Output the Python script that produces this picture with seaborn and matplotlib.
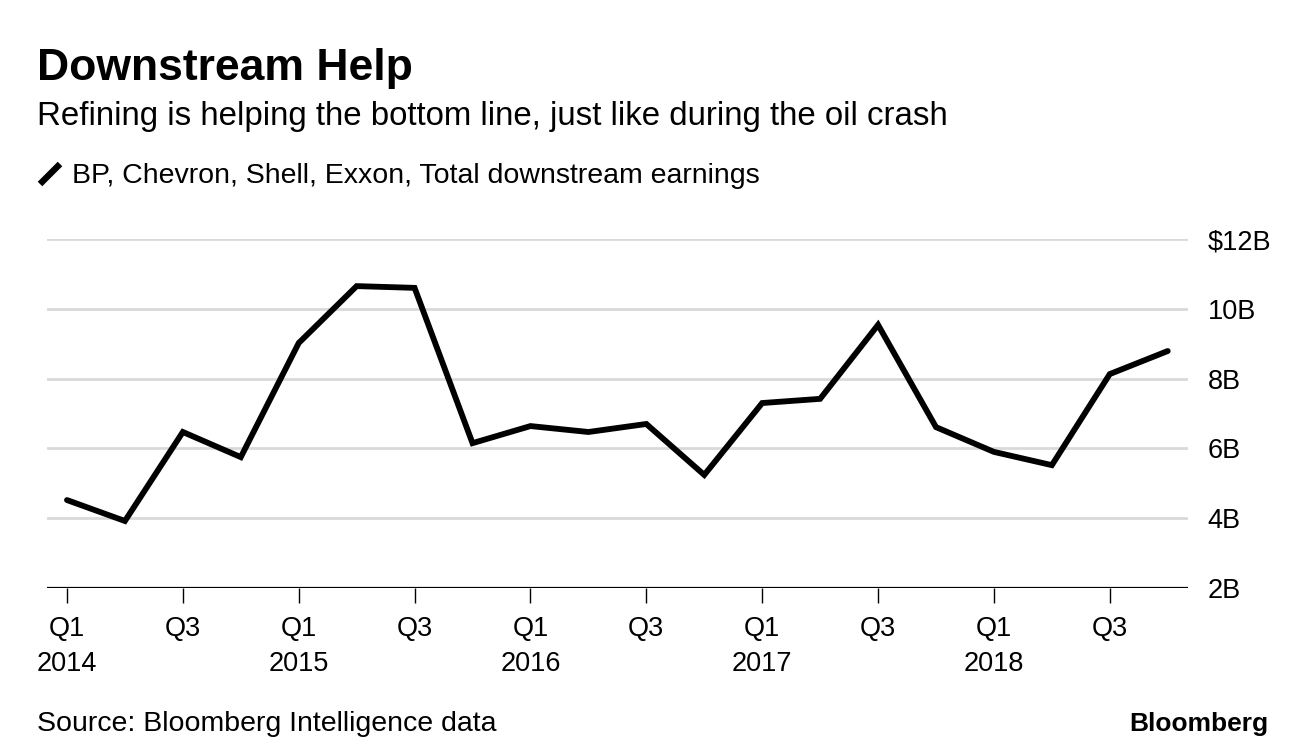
import numpy as np
import pandas as pd
import matplotlib.pyplot as plt
import seaborn as sns
from matplotlib.lines import Line2D

sns.set_style("white", {"text.color": "black", "xtick.color": "black",
                        "ytick.color": "black", "xtick.bottom": True})
plt.rcParams['font.family'] = ['Liberation Sans', 'DejaVu Sans']

# quarterly downstream earnings, $B
quarters = ["Q1 2014", "Q2 2014", "Q3 2014", "Q4 2014",
            "Q1 2015", "Q2 2015", "Q3 2015", "Q4 2015",
            "Q1 2016", "Q2 2016", "Q3 2016", "Q4 2016",
            "Q1 2017", "Q2 2017", "Q3 2017", "Q4 2017",
            "Q1 2018", "Q2 2018", "Q3 2018", "Q4 2018"]
earnings = [4.52, 3.92, 6.47, 5.75, 9.02, 10.65, 10.6, 6.15,
            6.64, 6.47, 6.7, 5.24, 7.3, 7.42, 9.54, 6.61,
            5.9, 5.52, 8.13, 8.79]
y_ticks = [2, 4, 6, 8, 10, 12]
y_labels = ["2B", "4B", "6B", "8B", "10B", "$12B"]

df = pd.DataFrame({"idx": np.arange(len(quarters)), "val": earnings})

fig = plt.figure(figsize=(12.96, 7.54), dpi=100)
ax = fig.add_axes([47 / 1296, 1 - 588 / 754, (1188 - 47) / 1296, (588 - 239) / 754])

# light gridlines, black baseline at 2B
for y in y_ticks[1:]:
    ax.axhline(y, color="#d9d9d9", lw=2, zorder=0)
ax.axhline(2, color="black", lw=1.6, zorder=1)

sns.lineplot(data=df, x="idx", y="val", color="black", lw=4.2, ax=ax,
             solid_capstyle="round", solid_joinstyle="miter")

ax.set_xlim(-0.345, 19.35)
ax.set_ylim(2, 12)
for s in ax.spines.values():
    s.set_visible(False)

# x ticks at Q1 and Q3 only
xt = [i for i, q in enumerate(quarters) if q.startswith(("Q1", "Q3"))]
xl = [quarters[i].split()[0] + ("\n" + quarters[i].split()[1] if quarters[i].startswith("Q1") else "\n ")
      for i in xt]
ax.set_xticks(xt)
ax.set_xticklabels(xl, fontsize=19.5, linespacing=1.45)
ax.tick_params(axis="x", direction="out", length=11, width=1, color="black", pad=9)

ax.yaxis.tick_right()
ax.set_yticks(y_ticks)
ax.set_yticklabels(y_labels, fontsize=19.5)
ax.tick_params(axis="y", length=0, pad=14)
ax.set_xlabel("")
ax.set_ylabel("")

fig.text(37 / 1296, 1 - 80 / 754, "Downstream Help", fontsize=32, fontweight="bold",
         ha="left", va="baseline")
fig.text(37 / 1296, 1 - 125 / 754, "Refining is helping the bottom line, just like during the oil crash",
         fontsize=23.8, ha="left", va="baseline")
fig.add_artist(Line2D([40 / 1296, 60 / 1296], [1 - 184 / 754, 1 - 164 / 754],
                      color="black", lw=4.6, solid_capstyle="butt"))
fig.text(72 / 1296, 1 - 183 / 754, "BP, Chevron, Shell, Exxon, Total downstream earnings",
         fontsize=20.5, ha="left", va="baseline")
fig.text(37 / 1296, 1 - 731 / 754, "Source: Bloomberg Intelligence data",
         fontsize=20.5, ha="left", va="baseline")
fig.text(1268 / 1296, 1 - 731 / 754, "Bloomberg", fontsize=19, fontweight="bold",
         ha="right", va="baseline")

fig.savefig("out.png", dpi=100)
